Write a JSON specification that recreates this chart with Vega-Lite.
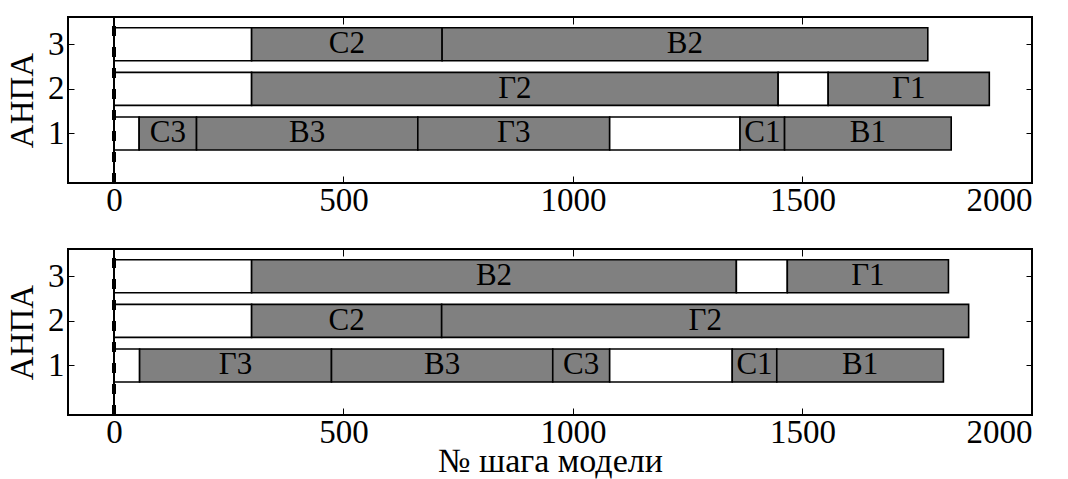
{
  "$schema": "https://vega.github.io/schema/vega-lite/v6.json",
  "padding": {"left": 5, "top": 14, "right": 5, "bottom": 0},
  "background": "white",
  "datasets": {
    "top": [
      {"row": 3, "start": 0, "end": 300, "kind": "idle", "label": ""},
      {"row": 3, "start": 300, "end": 715, "kind": "task", "label": "С2"},
      {"row": 3, "start": 715, "end": 1773, "kind": "task", "label": "В2"},
      {"row": 2, "start": 0, "end": 300, "kind": "idle", "label": ""},
      {"row": 2, "start": 300, "end": 1447, "kind": "task", "label": "Г2"},
      {"row": 2, "start": 1447, "end": 1556, "kind": "idle", "label": ""},
      {"row": 2, "start": 1556, "end": 1907, "kind": "task", "label": "Г1"},
      {"row": 1, "start": 0, "end": 55, "kind": "idle", "label": ""},
      {"row": 1, "start": 55, "end": 180, "kind": "task", "label": "С3"},
      {"row": 1, "start": 180, "end": 662, "kind": "task", "label": "В3"},
      {"row": 1, "start": 662, "end": 1080, "kind": "task", "label": "Г3"},
      {"row": 1, "start": 1080, "end": 1364, "kind": "idle", "label": ""},
      {"row": 1, "start": 1364, "end": 1461, "kind": "task", "label": "С1"},
      {"row": 1, "start": 1461, "end": 1824, "kind": "task", "label": "В1"}
    ],
    "bottom": [
      {"row": 3, "start": 0, "end": 300, "kind": "idle", "label": ""},
      {"row": 3, "start": 300, "end": 1356, "kind": "task", "label": "В2"},
      {"row": 3, "start": 1356, "end": 1467, "kind": "idle", "label": ""},
      {"row": 3, "start": 1467, "end": 1818, "kind": "task", "label": "Г1"},
      {"row": 2, "start": 0, "end": 300, "kind": "idle", "label": ""},
      {"row": 2, "start": 300, "end": 714, "kind": "task", "label": "С2"},
      {"row": 2, "start": 714, "end": 1862, "kind": "task", "label": "Г2"},
      {"row": 1, "start": 0, "end": 56, "kind": "idle", "label": ""},
      {"row": 1, "start": 56, "end": 474, "kind": "task", "label": "Г3"},
      {"row": 1, "start": 474, "end": 956, "kind": "task", "label": "В3"},
      {"row": 1, "start": 956, "end": 1080, "kind": "task", "label": "С3"},
      {"row": 1, "start": 1080, "end": 1347, "kind": "idle", "label": ""},
      {"row": 1, "start": 1347, "end": 1444, "kind": "task", "label": "С1"},
      {"row": 1, "start": 1444, "end": 1807, "kind": "task", "label": "В1"}
    ]
  },
  "bounds": "flush",
  "spacing": 66,
  "vconcat": [
    {
      "width": 964,
      "height": 166,
      "data": {"name": "top"},
      "resolve": {"axis": {"x": "independent", "y": "independent"}},
      "layer": [
        {
          "mark": {"type": "bar", "height": 33, "stroke": "black", "strokeWidth": 1.6},
          "encoding": {
            "x": {"field": "start", "type": "quantitative", "scale": {"domain": [-100, 2000], "nice": false, "zero": false},
                  "axis": {"orient": "bottom", "title": null, "format": "d", "values": [0, 500, 1000, 1500, 2000], "tickSize": -7, "labelPadding": 8}},
            "x2": {"field": "end"},
            "y": {"field": "row", "type": "quantitative", "scale": {"domain": [0, 3.5], "nice": false, "zero": false},
                  "axis": {"orient": "left", "title": "АНПА", "values": [1, 2, 3], "tickSize": -6, "labelPadding": 10, "titlePadding": 8}},
            "fill": {"field": "kind", "type": "nominal", "scale": {"domain": ["idle", "task"], "range": ["white", "#808080"]}, "legend": null}
          }
        },
        {
          "transform": [
            {"filter": "datum.kind == 'task'"},
            {"fold": ["start", "end"], "as": ["edge", "pos"]}
          ],
          "mark": {"type": "text", "fontSize": 31, "font": "Liberation Serif, Times New Roman, serif", "color": "black", "baseline": "middle", "align": "center"},
          "encoding": {
            "x": {"aggregate": "mean", "field": "pos", "type": "quantitative", "axis": null},
            "y": {"field": "row", "type": "quantitative",
                  "axis": {"orient": "right", "title": null, "labels": false, "values": [1, 2, 3], "tickSize": -6}},
            "text": {"field": "label", "type": "nominal"}
          }
        },
        {
          "mark": {"type": "rule", "color": "black", "strokeWidth": 1},
          "encoding": {
            "x": {"datum": 0, "type": "quantitative",
                  "axis": {"orient": "top", "title": null, "labels": false, "values": [0, 500, 1000, 1500, 2000], "tickSize": -7}}
          }
        },
        {
          "mark": {"type": "rule", "color": "black", "strokeWidth": 3.5, "strokeDash": [10, 11], "strokeDashOffset": 12},
          "encoding": {
            "x": {"datum": 0, "type": "quantitative", "axis": null}
          }
        }
      ]
    },
    {
      "width": 964,
      "height": 166,
      "data": {"name": "bottom"},
      "resolve": {"axis": {"x": "independent", "y": "independent"}},
      "layer": [
        {
          "mark": {"type": "bar", "height": 33, "stroke": "black", "strokeWidth": 1.6},
          "encoding": {
            "x": {"field": "start", "type": "quantitative", "scale": {"domain": [-100, 2000], "nice": false, "zero": false},
                  "axis": {"orient": "bottom", "title": "№ шага модели", "format": "d", "values": [0, 500, 1000, 1500, 2000], "tickSize": -7, "labelPadding": 8, "titlePadding": -5, "titleFontSize": 34}},
            "x2": {"field": "end"},
            "y": {"field": "row", "type": "quantitative", "scale": {"domain": [0, 3.5], "nice": false, "zero": false},
                  "axis": {"orient": "left", "title": "АНПА", "values": [1, 2, 3], "tickSize": -6, "labelPadding": 10, "titlePadding": 8}},
            "fill": {"field": "kind", "type": "nominal", "scale": {"domain": ["idle", "task"], "range": ["white", "#808080"]}, "legend": null}
          }
        },
        {
          "transform": [
            {"filter": "datum.kind == 'task'"},
            {"fold": ["start", "end"], "as": ["edge", "pos"]}
          ],
          "mark": {"type": "text", "fontSize": 31, "font": "Liberation Serif, Times New Roman, serif", "color": "black", "baseline": "middle", "align": "center"},
          "encoding": {
            "x": {"aggregate": "mean", "field": "pos", "type": "quantitative", "axis": null},
            "y": {"field": "row", "type": "quantitative",
                  "axis": {"orient": "right", "title": null, "labels": false, "values": [1, 2, 3], "tickSize": -6}},
            "text": {"field": "label", "type": "nominal"}
          }
        },
        {
          "mark": {"type": "rule", "color": "black", "strokeWidth": 1},
          "encoding": {
            "x": {"datum": 0, "type": "quantitative",
                  "axis": {"orient": "top", "title": null, "labels": false, "values": [0, 500, 1000, 1500, 2000], "tickSize": -7}}
          }
        },
        {
          "mark": {"type": "rule", "color": "black", "strokeWidth": 3.5, "strokeDash": [10, 11], "strokeDashOffset": 12},
          "encoding": {
            "x": {"datum": 0, "type": "quantitative", "axis": null}
          }
        }
      ]
    }
  ],
  "config": {
    "font": "Liberation Serif, Times New Roman, serif",
    "view": {"stroke": "black", "strokeWidth": 2},
    "axis": {
      "domain": false,
      "grid": false,
      "labelFont": "Liberation Serif, Times New Roman, serif",
      "labelFontSize": 33,
      "labelColor": "black",
      "tickColor": "black",
      "tickWidth": 1,
      "titleFont": "Liberation Serif, Times New Roman, serif",
      "titleFontSize": 33,
      "titleFontWeight": "normal",
      "titleColor": "black"
    }
  }
}
